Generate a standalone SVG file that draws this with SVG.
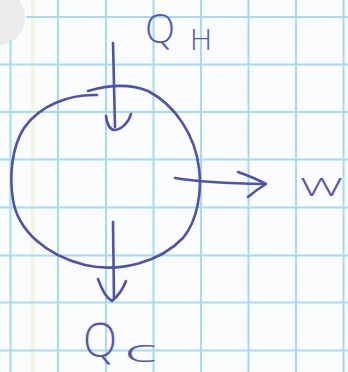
<svg xmlns="http://www.w3.org/2000/svg" width="348" height="372" viewBox="0 0 348 372">
  <defs>
    <style>
      .grid { stroke: #a6dbef; stroke-width: 2; fill: none; }
      .ink { stroke: #4e53a8; stroke-width: 2.6; fill: none; stroke-linecap: round; stroke-linejoin: round; }
      .lbl { fill: #5357aa; font-family: "Open Sans", "Liberation Sans", Arial, sans-serif; font-weight: 300; }
    </style>
  </defs>
  <rect width="348" height="372" fill="#f9fbfc"/>
  <ellipse cx="0" cy="18" rx="25" ry="27" fill="#ececed"/>
  <line x1="33" y1="0" x2="33" y2="372" stroke="#f6f4dc" stroke-width="4"/>
  <g id="grid" class="grid">
    <line x1="10.5" y1="40" x2="10.5" y2="372"/>
    <line x1="58" y1="0" x2="58" y2="372"/>
    <line x1="106" y1="0" x2="106" y2="372"/>
    <line x1="153.5" y1="0" x2="153.5" y2="372"/>
    <line x1="201" y1="0" x2="201" y2="372"/>
    <line x1="248.5" y1="0" x2="248.5" y2="372"/>
    <line x1="296" y1="0" x2="296" y2="372"/>
    <line x1="343.5" y1="0" x2="343.5" y2="372"/>
    <line x1="26" y1="17" x2="348" y2="17"/>
    <line x1="0" y1="64.5" x2="348" y2="64.5"/>
    <line x1="0" y1="112" x2="348" y2="112"/>
    <line x1="0" y1="159.5" x2="348" y2="159.5"/>
    <line x1="0" y1="207.5" x2="348" y2="207.5"/>
    <line x1="0" y1="255.5" x2="348" y2="255.5"/>
    <line x1="0" y1="302.5" x2="348" y2="302.5"/>
    <line x1="0" y1="350.5" x2="348" y2="350.5"/>
  </g>
  <g id="engine">
    <path class="ink" d="M97,95 C70,94 40,105 24,128 C12,147 9,175 13,200 C18,230 45,255 85,265 C120,273 160,262 183,238 C198,220 202,190 199,168 C195,135 175,105 148,91 C128,83 105,86 88,91"/>
  </g>
  <g id="connectors">
    <g id="arrow-qh">
      <path class="ink" d="M113,43 L115,127"/>
      <path class="ink" d="M106,116 C107,124 110,130 115,130 C122,129 129,122 131,114"/>
    </g>
    <g id="arrow-w">
      <path class="ink" d="M175,178 Q205,183 265,184"/>
      <path class="ink" d="M238,172 Q255,178 266,184 Q256,190 248,197"/>
    </g>
    <g id="arrow-qc">
      <path class="ink" d="M113,222 L114,299"/>
      <path class="ink" d="M98,279 C102,290 106,298 112,301 C118,296 123,289 126,281"/>
    </g>
  </g>
  <g id="label-qh">
    <text class="lbl" x="145" y="43" font-size="41" textLength="30" lengthAdjust="spacingAndGlyphs">Q</text>
    <text class="lbl" x="190" y="50" font-size="30" textLength="22" lengthAdjust="spacingAndGlyphs">H</text>
  </g>
  <g id="label-w">
    <text class="lbl" x="300" y="196" font-size="25" textLength="43" lengthAdjust="spacingAndGlyphs">W</text>
  </g>
  <g id="label-qc">
    <text class="lbl" x="83" y="357" font-size="47" textLength="34" lengthAdjust="spacingAndGlyphs">Q</text>
    <text class="lbl" x="124" y="362" font-size="32" textLength="33" lengthAdjust="spacingAndGlyphs">c</text>
  </g>
</svg>
